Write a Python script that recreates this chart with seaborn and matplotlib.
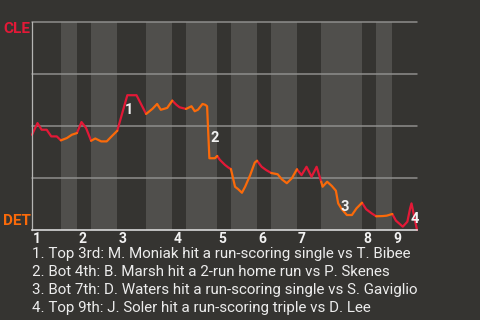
import matplotlib
matplotlib.use("Agg")
import matplotlib.pyplot as plt
import seaborn as sns
import pandas as pd

# ---- data ----
teams = ["CLE", "DET"]                      # top half = CLE batting, bottom half = DET batting
team_colors = ["#E31937", "#FA6A0A"]
innings = [1, 2, 3, 4, 5, 6, 7, 8, 9]
# half-inning boundaries on the play axis (17 half innings, no bottom 9th)
half_bounds = [0.0, 6.3, 9.8, 12.9, 18.6, 24.9, 30.6, 33.6, 40.4, 43.4,
               49.1, 52.2, 57.8, 63.1, 72.0, 75.1, 78.6, 84.0]
play_x = [0.0, 1.2, 2.1, 3.2, 4.2, 5.4, 6.3,
          7.6, 8.7, 9.8,
          10.8, 11.8, 12.9,
          13.8, 15.1, 16.3, 17.5, 18.6,
          20.8, 22.8, 24.9,
          26.3, 27.3, 28.1, 29.5, 30.6,
          31.5, 32.2, 33.6,
          34.8, 35.5, 36.2, 37.2, 37.8, 38.2, 38.7, 39.9, 40.4,
          41.0, 42.1, 42.8, 43.4,
          44.3, 45.0, 45.8, 46.5, 47.6, 48.6, 49.1,
          50.1, 51.1, 52.2,
          53.6, 54.5, 55.6, 56.7, 57.8,
          58.8, 59.9, 61.0, 62.1, 63.1,
          63.4, 64.4, 65.4, 66.3, 66.8, 67.6, 68.7, 69.8, 70.8, 72.0,
          72.9, 74.1, 75.1,
          76.5, 77.4, 78.6,
          79.4, 80.9, 81.9, 82.5, 82.8, 83.4, 84.0]
cle_wp = [0.458, 0.514, 0.482, 0.482, 0.450, 0.450, 0.431,
          0.442, 0.458, 0.466,
          0.519, 0.490, 0.429,
          0.440, 0.426, 0.426, 0.453, 0.477,
          0.648, 0.648, 0.558,
          0.583, 0.606, 0.578, 0.587, 0.622,
          0.602, 0.590, 0.582,
          0.595, 0.571, 0.578, 0.606, 0.602, 0.595, 0.345, 0.345, 0.356,
          0.337, 0.313, 0.301, 0.293,
          0.208, 0.196, 0.179, 0.208, 0.264, 0.324, 0.333,
          0.304, 0.288, 0.274,
          0.268, 0.244, 0.225, 0.249, 0.292,
          0.264, 0.304, 0.256, 0.304, 0.232,
          0.208, 0.232, 0.212, 0.189, 0.128, 0.100, 0.072, 0.072, 0.104, 0.131,
          0.100, 0.080, 0.066,
          0.067, 0.069, 0.077,
          0.045, 0.016, 0.040, 0.104, 0.128, 0.064, 0.000]
event_x = [20.8, 38.7, 67.6, 82.8]
event_labels = ["1", "2", "3", "4"]
event_offsets = [(1.2, -10.6), (4.0, 14.4), (2.4, 1.7), (2.6, -11.3)]
event_text = [
    "1. Top 3rd: M. Moniak hit a run-scoring single vs T. Bibee",
    "2. Bot 4th: B. Marsh hit a 2-run home run vs P. Skenes",
    "3. Bot 7th: D. Waters hit a run-scoring single vs S. Gaviglio",
    "4. Top 9th: J. Soler hit a run-scoring triple vs D. Lee",
]

# ---- build table ----
rows = []
for h in range(len(half_bounds) - 1):
    lo, hi = half_bounds[h], half_bounds[h + 1]
    for x, p in zip(play_x, cle_wp):
        if lo - 1e-9 <= x <= hi + 1e-9:
            rows.append(dict(x=x, wp=p, half=h, team=teams[h % 2]))
df = pd.DataFrame(rows)

BG = "#353431"
BAND = "#504F4C"
sns.set_style("dark", rc={"axes.facecolor": BG, "figure.facecolor": BG})
plt.rcParams["font.family"] = ["Roboto", "DejaVu Sans"]

fig = plt.figure(figsize=(4.8, 3.2), dpi=100)
ax = fig.add_axes([32 / 480, 90 / 320, 385 / 480, 208 / 320])
ax.set_facecolor(BG)

for h in range(1, len(half_bounds) - 1, 2):
    ax.axvspan(half_bounds[h], half_bounds[h + 1], color=BAND, lw=0, zorder=0)

for yv in [0.25, 0.5, 0.75, 1.0]:
    ax.axhline(yv, color="#8E8E8C", lw=1.1, zorder=1, clip_on=False)

sns.lineplot(data=df, x="x", y="wp", hue="team", units="half", estimator=None,
             palette=dict(zip(teams, team_colors)), linewidth=1.6, legend=False,
             sort=False, ax=ax, zorder=3)
for ln in ax.lines:
    ln.set_clip_on(False)

ax.set_xlim(half_bounds[0], half_bounds[-1])
ax.set_ylim(0, 1)
ax.set_xticks([])
ax.set_yticks([])
ax.set_xlabel("")
ax.set_ylabel("")
ax.grid(False)
for s in ["top", "right"]:
    ax.spines[s].set_visible(False)
ax.spines["left"].set_color("#B5B5B3")
ax.spines["left"].set_linewidth(0.9)
ax.spines["bottom"].set_color("#D8D8D8")
ax.spines["bottom"].set_linewidth(1.2)
ax.spines["left"].set_zorder(4)
ax.spines["bottom"].set_zorder(4)

# event markers
for ex, lab, off in zip(event_x, event_labels, event_offsets):
    ey = cle_wp[play_x.index(ex)]
    ax.annotate(lab, xy=(ex, ey), xytext=off, textcoords="offset points",
                ha="center", va="center", color="#F2F2F2", fontsize=10.5,
                fontweight="bold", zorder=5, annotation_clip=False)

# inning numbers
for i, inn in enumerate(innings):
    ax.annotate(str(inn), xy=(half_bounds[2 * i], 0), xycoords=("data", "axes fraction"),
                xytext=(0.8, -1.2), textcoords="offset points", ha="left", va="top",
                color="#F2F2F2", fontsize=10, fontweight="bold", annotation_clip=False)

# team labels
fig.text(3 / 480, (320 - 33.3) / 320, teams[0], color=team_colors[0], fontsize=11,
         fontweight="bold", ha="left", va="baseline")
fig.text(3 / 480, (320 - 225) / 320, teams[1], color=team_colors[1], fontsize=11,
         fontweight="bold", ha="left", va="baseline")

# event descriptions
baselines = [258.3, 276.0, 294.0, 311.7]
for t, b in zip(event_text, baselines):
    fig.text(32 / 480, (320 - b) / 320, t, color="#ECECEC", fontsize=10.9,
             ha="left", va="baseline")

fig.savefig("out.png", dpi=100, facecolor=BG)
